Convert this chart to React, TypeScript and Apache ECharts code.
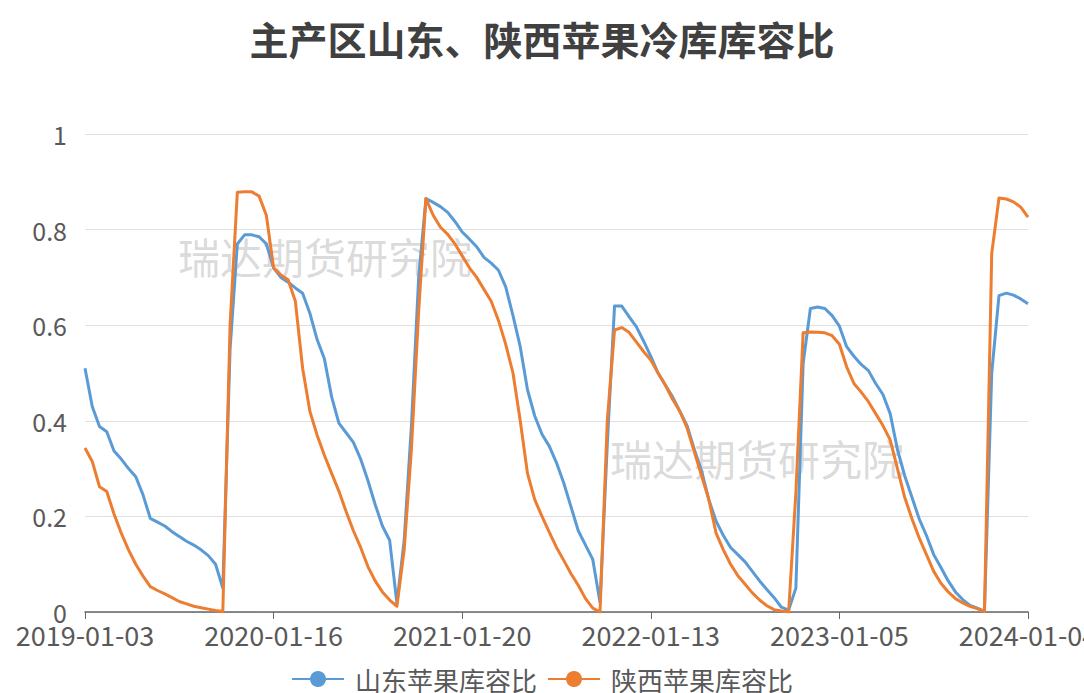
import React, { useEffect, useRef } from "react";
import * as echarts from "echarts";

const TITLE = "主产区山东、陕西苹果冷库库容比";
const SERIES_NAMES = ["山东苹果库容比", "陕西苹果库容比"];
const WATERMARK = "瑞达期货研究院";

// Tick labels shown on the x axis (one every 26 categories)
const tickLabels = ["2019-01-03", "2020-01-16", "2021-01-20", "2022-01-13", "2023-01-05", "2024-01-04"];
const STEPS_PER_TICK = 26;

// 山东苹果库容比
const shandong = [
  0.51, 0.43, 0.388, 0.377, 0.337, 0.32, 0.3, 0.283, 0.245, 0.196,
  0.188, 0.18, 0.168, 0.158, 0.148, 0.14, 0.13, 0.118, 0.1, 0.05,
  0.55, 0.77, 0.789, 0.789, 0.785, 0.77, 0.72, 0.7, 0.69, 0.678,
  0.667, 0.625, 0.57, 0.53, 0.45, 0.395, 0.375, 0.355, 0.32, 0.275,
  0.225, 0.18, 0.15, 0.018, 0.15, 0.39, 0.7, 0.865, 0.857, 0.848,
  0.836, 0.817, 0.795, 0.78, 0.764, 0.742, 0.73, 0.715, 0.68, 0.62,
  0.555, 0.465, 0.41, 0.372, 0.347, 0.312, 0.27, 0.22, 0.17, 0.14,
  0.11, 0.02, 0.35, 0.64, 0.64, 0.618, 0.597, 0.567, 0.535, 0.5,
  0.475, 0.45, 0.42, 0.39, 0.34, 0.295, 0.235, 0.19, 0.16, 0.135,
  0.12, 0.105, 0.085, 0.065, 0.047, 0.03, 0.01, 0.004, 0.05, 0.52,
  0.635, 0.638, 0.635, 0.62, 0.598, 0.555, 0.535, 0.518, 0.505, 0.478,
  0.455, 0.415, 0.34, 0.285, 0.24, 0.195, 0.16, 0.12, 0.093, 0.065,
  0.042, 0.026, 0.014, 0.008, 0.002, 0.5, 0.662, 0.667, 0.663, 0.655,
  0.645,
];

// 陕西苹果库容比
const shaanxi = [
  0.343, 0.315, 0.262, 0.252, 0.205, 0.165, 0.13, 0.1, 0.075, 0.053,
  0.045, 0.038, 0.03, 0.022, 0.017, 0.012, 0.009, 0.006, 0.003, 0.001,
  0.6, 0.878, 0.879, 0.879, 0.87, 0.83, 0.72, 0.705, 0.695, 0.65,
  0.51, 0.42, 0.37, 0.328, 0.29, 0.253, 0.21, 0.17, 0.135, 0.095,
  0.065, 0.042, 0.025, 0.012, 0.13, 0.34, 0.63, 0.865, 0.83, 0.805,
  0.79, 0.77, 0.745, 0.72, 0.7, 0.675, 0.65, 0.61, 0.56, 0.5,
  0.4, 0.29, 0.235, 0.2, 0.167, 0.135, 0.108, 0.08, 0.056, 0.028,
  0.008, 0.0, 0.4, 0.59, 0.595, 0.585, 0.565, 0.545, 0.527, 0.5,
  0.475, 0.445, 0.42, 0.385, 0.335, 0.285, 0.235, 0.165, 0.13, 0.1,
  0.076, 0.058, 0.04, 0.025, 0.013, 0.005, 0.002, 0.0, 0.25, 0.584,
  0.586, 0.585, 0.584, 0.578, 0.56, 0.513, 0.478, 0.46, 0.44, 0.415,
  0.39, 0.36, 0.3, 0.24, 0.195, 0.155, 0.12, 0.085, 0.06, 0.042,
  0.028, 0.019, 0.012, 0.007, 0.001, 0.75, 0.866, 0.864, 0.858, 0.847,
  0.826,
];

function buildCategories(): string[] {
  const out: string[] = [];
  const fmt = (d: Date) => d.toISOString().slice(0, 10);
  for (let j = 0; j < tickLabels.length - 1; j++) {
    const a = new Date(tickLabels[j] + "T00:00:00Z").getTime();
    const b = new Date(tickLabels[j + 1] + "T00:00:00Z").getTime();
    for (let k = 0; k < STEPS_PER_TICK; k++) {
      if (k === 0) out.push(tickLabels[j]);
      else out.push(fmt(new Date(a + ((b - a) * k) / STEPS_PER_TICK)));
    }
  }
  out.push(tickLabels[tickLabels.length - 1]);
  return out;
}

const FONT = "'Noto Sans CJK SC', 'Microsoft YaHei', sans-serif";

export default function App() {
  const ref = useRef<HTMLDivElement>(null);
  useEffect(() => {
    document.body.style.margin = "0";
    if (!ref.current) return;
    const chart = echarts.init(ref.current, undefined, { renderer: "svg" });
    const categories = buildCategories();
    chart.setOption({
      animation: false,
      backgroundColor: "#ffffff",
      textStyle: { fontFamily: FONT },
      title: {
        text: TITLE,
        left: "center",
        top: 13,
        textStyle: { fontSize: 39, fontWeight: "bold", color: "#404040", fontFamily: FONT },
      },
      graphic: [
        {
          type: "text",
          left: 178,
          top: 234,
          silent: true,
          style: { text: WATERMARK, fontSize: 42, fill: "rgba(140,140,140,0.32)", fontFamily: FONT },
        },
        {
          type: "text",
          left: 610,
          top: 436,
          silent: true,
          style: { text: WATERMARK, fontSize: 42, fill: "rgba(140,140,140,0.32)", fontFamily: FONT },
        },
      ],
      legend: {
        left: "center",
        top: 661,
        itemWidth: 52,
        itemHeight: 20,
        itemGap: 10,
        textStyle: { fontSize: 26, color: "#595959", fontFamily: FONT, padding: [0, 0, 0, 6] },
        data: SERIES_NAMES,
      },
      grid: {
        left: 85,
        right: 56,
        top: 134,
        bottom: 81,
        containLabel: false,
        outerBoundsMode: "none",
      },
      xAxis: {
        type: "category",
        data: categories,
        boundaryGap: false,
        axisLine: { lineStyle: { color: "#666666", width: 1.5 } },
        axisTick: { show: true, interval: STEPS_PER_TICK - 1, length: 7, lineStyle: { color: "#666666" } },
        axisLabel: {
          interval: STEPS_PER_TICK - 1,
          fontSize: 27,
          color: "#595959",
          margin: 9,
          fontFamily: FONT,
        },
        splitLine: { show: false },
      },
      yAxis: {
        type: "value",
        min: 0,
        max: 1,
        interval: 0.2,
        axisLine: { show: false },
        axisTick: { show: false },
        axisLabel: { fontSize: 25, color: "#595959", margin: 18, fontFamily: FONT },
        splitLine: { lineStyle: { color: "#e0e0e0", width: 1 } },
      },
      series: [
        {
          name: SERIES_NAMES[0],
          type: "line",
          data: shandong,
          symbol: "circle",
          showSymbol: false,
          lineStyle: { width: 3, color: "#5B9BD5", join: "round" },
          itemStyle: { color: "#5B9BD5" },
        },
        {
          name: SERIES_NAMES[1],
          type: "line",
          data: shaanxi,
          symbol: "circle",
          showSymbol: false,
          lineStyle: { width: 3, color: "#ED7D31", join: "round" },
          itemStyle: { color: "#ED7D31" },
        },
      ],
    });
    return () => chart.dispose();
  }, []);
  return <div ref={ref} style={{ width: 1084, height: 693 }} />;
}
